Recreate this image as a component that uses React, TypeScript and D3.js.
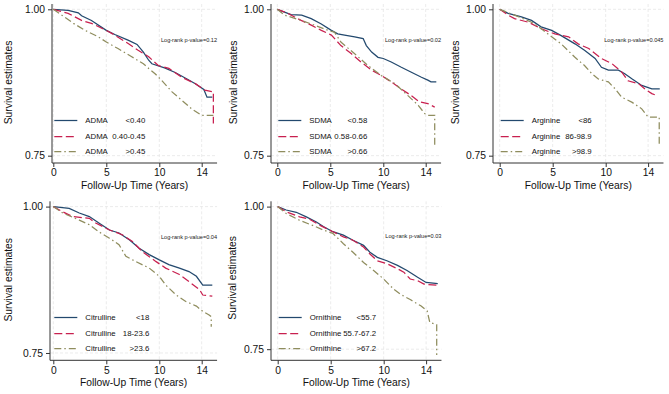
import * as d3 from "d3"
import { useEffect, useRef } from "react"

type Pt = [number, number]

const xTicks = [0, 5, 10, 14]
const yTicks = [0.75, 1.0]

// Kaplan-Meier estimates, [years, survival], one array per tertile group
const admaLow: Pt[] = [[0, 1], [1.4, 0.998], [2.36, 0.994], [2.67, 0.989], [3.6, 0.981], [5.0, 0.964], [5.8, 0.957], [7.1, 0.947], [7.9, 0.94], [8.5, 0.927], [9.0, 0.913], [9.3, 0.907], [10.5, 0.9], [11.5, 0.892], [12.7, 0.88], [13.4, 0.873], [14.2, 0.863], [14.5, 0.85], [15.0, 0.85]]
const admaMid: Pt[] = [[0, 1], [1.4, 0.993], [2.67, 0.981], [3.6, 0.976], [5.0, 0.964], [5.8, 0.956], [7.1, 0.941], [8.0, 0.93], [9.0, 0.919], [9.9, 0.904], [10.9, 0.899], [12.1, 0.884], [13.4, 0.873], [14.3, 0.862], [15.1, 0.859], [15.1, 0.805]]
const admaHigh: Pt[] = [[0, 1], [0.8, 0.99], [1.9, 0.976], [3.0, 0.964], [4.25, 0.953], [5.0, 0.944], [6.1, 0.933], [7.4, 0.919], [8.5, 0.907], [9.0, 0.899], [9.6, 0.89], [10.2, 0.879], [11.2, 0.859], [12.1, 0.845], [13.05, 0.83], [14.0, 0.819], [15.1, 0.819]]

const sdmaLow: Pt[] = [[0, 1], [1.3, 0.991], [2.3, 0.99], [3.2, 0.984], [4.15, 0.975], [5.1, 0.964], [5.7, 0.958], [6.35, 0.956], [7.3, 0.953], [8.1, 0.95], [8.4, 0.938], [8.9, 0.927], [9.5, 0.918], [10.0, 0.916], [10.75, 0.91], [11.7, 0.901], [12.6, 0.893], [13.6, 0.884], [14.2, 0.879], [14.5, 0.876], [15.0, 0.876]]
const sdmaMid: Pt[] = [[0, 1], [1.0, 0.993], [2.25, 0.981], [3.2, 0.973], [4.15, 0.964], [5.1, 0.956], [6.0, 0.938], [7.0, 0.924], [7.9, 0.91], [8.9, 0.896], [9.8, 0.887], [10.75, 0.876], [11.7, 0.864], [12.6, 0.853], [13.4, 0.842], [14.2, 0.839], [14.85, 0.833]]
const sdmaHigh: Pt[] = [[0, 1], [0.7, 0.99], [2.25, 0.981], [3.5, 0.973], [4.8, 0.964], [5.4, 0.961], [6.0, 0.944], [7.3, 0.924], [8.55, 0.904], [9.8, 0.887], [11.1, 0.873], [12.3, 0.853], [13.3, 0.836], [13.9, 0.822], [14.2, 0.819], [14.85, 0.819], [14.85, 0.764]]

const argLow: Pt[] = [[0, 1], [0.8, 0.993], [2.05, 0.987], [3.0, 0.981], [3.9, 0.97], [4.9, 0.964], [5.8, 0.955], [7.1, 0.941], [8.0, 0.93], [9.0, 0.916], [9.6, 0.901], [10.25, 0.896], [11.2, 0.896], [11.8, 0.89], [12.5, 0.881], [13.4, 0.87], [14.35, 0.864], [15.1, 0.864]]
const argMid: Pt[] = [[0, 1], [0.8, 0.99], [1.4, 0.984], [2.7, 0.978], [3.9, 0.967], [5.2, 0.958], [6.5, 0.953], [7.4, 0.941], [8.4, 0.933], [9.6, 0.916], [10.6, 0.907], [11.5, 0.893], [12.1, 0.878], [13.1, 0.873], [13.7, 0.864], [14.35, 0.856], [14.8, 0.853]]
const argHigh: Pt[] = [[0, 1], [1.4, 0.99], [3.0, 0.978], [3.9, 0.967], [4.9, 0.953], [5.8, 0.941], [7.1, 0.918], [8.0, 0.904], [8.7, 0.89], [9.3, 0.881], [10.25, 0.876], [10.9, 0.864], [11.5, 0.85], [12.5, 0.841], [13.4, 0.83], [14.0, 0.816], [15.05, 0.816], [15.05, 0.77]]

const citLow: Pt[] = [[0, 1], [1.5, 0.997], [2.45, 0.989], [3.4, 0.983], [4.3, 0.972], [5.3, 0.96], [6.2, 0.955], [7.2, 0.943], [8.1, 0.929], [9.05, 0.918], [10.0, 0.909], [10.9, 0.901], [11.9, 0.895], [12.8, 0.889], [13.5, 0.881], [14.1, 0.866], [15.0, 0.866]]
const citMid: Pt[] = [[0, 1], [0.9, 0.991], [1.8, 0.983], [3.4, 0.98], [4.0, 0.972], [5.3, 0.96], [6.5, 0.952], [7.5, 0.94], [8.4, 0.923], [9.7, 0.906], [10.6, 0.895], [11.9, 0.884], [12.8, 0.872], [13.8, 0.858], [14.1, 0.849], [15.0, 0.847]]
const citHigh: Pt[] = [[0, 1], [0.9, 0.989], [2.45, 0.977], [3.4, 0.969], [4.3, 0.957], [5.3, 0.946], [6.2, 0.935], [6.85, 0.915], [7.8, 0.906], [9.05, 0.895], [10.0, 0.881], [10.6, 0.866], [11.6, 0.849], [12.5, 0.838], [13.5, 0.83], [14.1, 0.821], [14.7, 0.815], [14.9, 0.812], [14.9, 0.795]]

const ornLow: Pt[] = [[0, 1], [0.8, 0.994], [1.75, 0.99], [2.7, 0.982], [3.65, 0.973], [4.3, 0.965], [5.2, 0.956], [6.2, 0.95], [7.1, 0.941], [8.1, 0.932], [8.7, 0.92], [9.4, 0.911], [10.3, 0.905], [11.3, 0.897], [12.2, 0.888], [13.2, 0.876], [14.0, 0.867], [15.1, 0.865]]
const ornMid: Pt[] = [[0, 1], [0.8, 0.991], [2.06, 0.982], [3.0, 0.978], [4.0, 0.967], [5.2, 0.956], [6.2, 0.947], [7.1, 0.941], [8.1, 0.929], [8.7, 0.917], [9.4, 0.905], [10.3, 0.9], [11.3, 0.891], [11.9, 0.885], [12.5, 0.873], [13.2, 0.87], [13.8, 0.864], [15.1, 0.862]]
const ornHigh: Pt[] = [[0, 1], [0.8, 0.988], [2.06, 0.976], [3.3, 0.967], [4.3, 0.959], [5.2, 0.953], [6.2, 0.935], [7.1, 0.92], [8.1, 0.902], [9.05, 0.888], [10.0, 0.873], [10.95, 0.855], [11.6, 0.846], [12.5, 0.837], [13.5, 0.826], [14.1, 0.817], [14.35, 0.797], [15.0, 0.793], [15.0, 0.74]]

const markers = ["ADMA", "SDMA", "Arginine", "Citrulline", "Ornithine"]
const groupLabels = [
  ["<0.40", "0.40-0.45", ">0.45"],
  ["<0.58", "0.58-0.66", ">0.66"],
  ["<86", "86-98.9", ">98.9"],
  ["<18", "18-23.6", ">23.6"],
  ["<55.7", "55.7-67.2", ">67.2"],
]
const pValues = ["0.12", "0.02", "0.045", "0.04", "0.03"]
const seriesByMarker = [
  [admaLow, admaMid, admaHigh],
  [sdmaLow, sdmaMid, sdmaHigh],
  [argLow, argMid, argHigh],
  [citLow, citMid, citHigh],
  [ornLow, ornMid, ornHigh],
]

// where each small plot sits on the page
const layout = [
  { axisX: 52, zeroX: 53.3, top: 0, labelX: 8, valueRight: 60 },
  { axisX: 271, zeroX: 277.3, top: 0, labelX: 233, valueRight: 58 },
  { axisX: 493, zeroX: 499.7, top: 0, labelX: 455, valueRight: 60 },
  { axisX: 50, zeroX: 53.3, top: 197.3, labelX: 8, valueRight: 64 },
  { axisX: 271, zeroX: 277.7, top: 197.3, labelX: 232, valueRight: 66.5 },
]

const colors = ["#23496e", "#c8204f", "#8f8d5e"]
const dashes = ["none", "8,3.5", "7,3,1.5,3"]
const font = "'Liberation Sans', Arial, Helvetica, sans-serif"

const W = 669
const H = 394
const pxPerYear = 10.6
const xEnd = 15.45

export default function App() {
  const svgRef = useRef<SVGSVGElement>(null)

  useEffect(() => {
    if (!svgRef.current) return
    const svg = d3.select(svgRef.current)
    svg.selectAll("*").remove()

    markers.forEach((name, i) => {
      const L = layout[i]
      const series = seriesByMarker[i]
      const g = svg.append("g")

      const axisTop = L.top + 4
      const axisBottom = L.top + 163
      const dataMin = d3.min(series.flat(), (d) => d[1]) as number
      const lo = Math.min(0.7375, dataMin - 0.0095)

      const x = d3.scaleLinear().domain([0, xEnd]).range([L.zeroX, L.zeroX + xEnd * pxPerYear])
      const y = d3.scaleLinear().domain([lo, 1]).range([axisBottom, L.top + 9.3])

      // faint grid
      g.selectAll(".vgrid")
        .data(xTicks)
        .enter()
        .append("line")
        .attr("x1", (d) => x(d))
        .attr("x2", (d) => x(d))
        .attr("y1", axisTop)
        .attr("y2", axisBottom)
        .attr("stroke", "#e6e6e6")
        .attr("stroke-width", 0.8)
        .attr("stroke-dasharray", "3,2")
      g.selectAll(".hgrid")
        .data(yTicks)
        .enter()
        .append("line")
        .attr("x1", L.axisX)
        .attr("x2", x(xEnd))
        .attr("y1", (d) => y(d))
        .attr("y2", (d) => y(d))
        .attr("stroke", "#e6e6e6")
        .attr("stroke-width", 0.8)
        .attr("stroke-dasharray", "3,2")

      // axes
      const xAxis = g
        .append("g")
        .attr("transform", `translate(0,${axisBottom})`)
        .call(d3.axisBottom(x).tickValues(xTicks).tickSize(4).tickPadding(2).tickFormat(d3.format("d")))
      const yAxis = g
        .append("g")
        .attr("transform", `translate(${L.axisX},0)`)
        .call(d3.axisLeft(y).tickValues(yTicks).tickSize(4).tickPadding(3).tickFormat(d3.format(".2f")))
      ;[xAxis, yAxis].forEach((a) => {
        a.select(".domain").remove()
        a.selectAll("line").attr("stroke", "#333")
        a.selectAll("text").attr("fill", "#111").style("font-family", font).style("font-size", "10.3px")
      })
      g.append("line")
        .attr("x1", L.axisX)
        .attr("x2", x(xEnd))
        .attr("y1", axisBottom)
        .attr("y2", axisBottom)
        .attr("stroke", "#333")
      g.append("line")
        .attr("x1", L.axisX)
        .attr("x2", L.axisX)
        .attr("y1", axisTop)
        .attr("y2", axisBottom)
        .attr("stroke", "#333")

      g.append("text")
        .attr("x", (L.axisX + x(xEnd)) / 2)
        .attr("y", L.top + 189)
        .attr("text-anchor", "middle")
        .attr("fill", "#111")
        .style("font-family", font)
        .style("font-size", "10.3px")
        .text("Follow-Up Time (Years)")

      const midY = (y(1) + y(0.75)) / 2
      g.append("text")
        .attr("transform", `translate(${L.labelX},${midY}) rotate(-90)`)
        .attr("text-anchor", "middle")
        .attr("dominant-baseline", "central")
        .attr("fill", "#111")
        .style("font-family", font)
        .style("font-size", "10.3px")
        .text("Survival estimates")

      // survival curves
      const line = d3
        .line<Pt>()
        .x((d) => x(d[0]))
        .y((d) => y(d[1]))
      series.forEach((s, k) => {
        g.append("path")
          .attr("d", line(s) || "")
          .attr("fill", "none")
          .attr("stroke", colors[k])
          .attr("stroke-width", 1.25)
          .attr("stroke-dasharray", dashes[k])
      })

      g.append("text")
        .attr("x", x(xEnd))
        .attr("y", y(0.948))
        .attr("text-anchor", "end")
        .attr("dominant-baseline", "central")
        .attr("fill", "#222")
        .style("font-family", font)
        .style("font-size", "5.6px")
        .text(`Log-rank p-value=${pValues[i]}`)

      // legend
      const legend = g.append("g")
      groupLabels[i].forEach((lab, k) => {
        const ly = Math.round(L.top + 120 + k * 15.5) + 0.5
        const lx = L.zeroX + 1
        legend
          .append("line")
          .attr("x1", lx)
          .attr("x2", lx + 23)
          .attr("y1", ly)
          .attr("y2", ly)
          .attr("stroke", colors[k])
          .attr("stroke-width", 1.25)
          .attr("stroke-dasharray", dashes[k])
        legend
          .append("text")
          .attr("x", lx + 31)
          .attr("y", ly)
          .attr("dominant-baseline", "central")
          .attr("fill", "#111")
          .style("font-family", font)
          .style("font-size", "7.8px")
          .text(name)
        legend
          .append("text")
          .attr("x", lx + 31 + L.valueRight)
          .attr("y", ly)
          .attr("text-anchor", "end")
          .attr("dominant-baseline", "central")
          .attr("fill", "#111")
          .style("font-family", font)
          .style("font-size", "7.8px")
          .text(lab)
      })
    })
  }, [])

  return (
    <svg
      ref={svgRef}
      width={W}
      height={H}
      viewBox={`0 0 ${W} ${H}`}
      style={{ position: "absolute", left: 0, top: 0, background: "#fff" }}
    />
  )
}
